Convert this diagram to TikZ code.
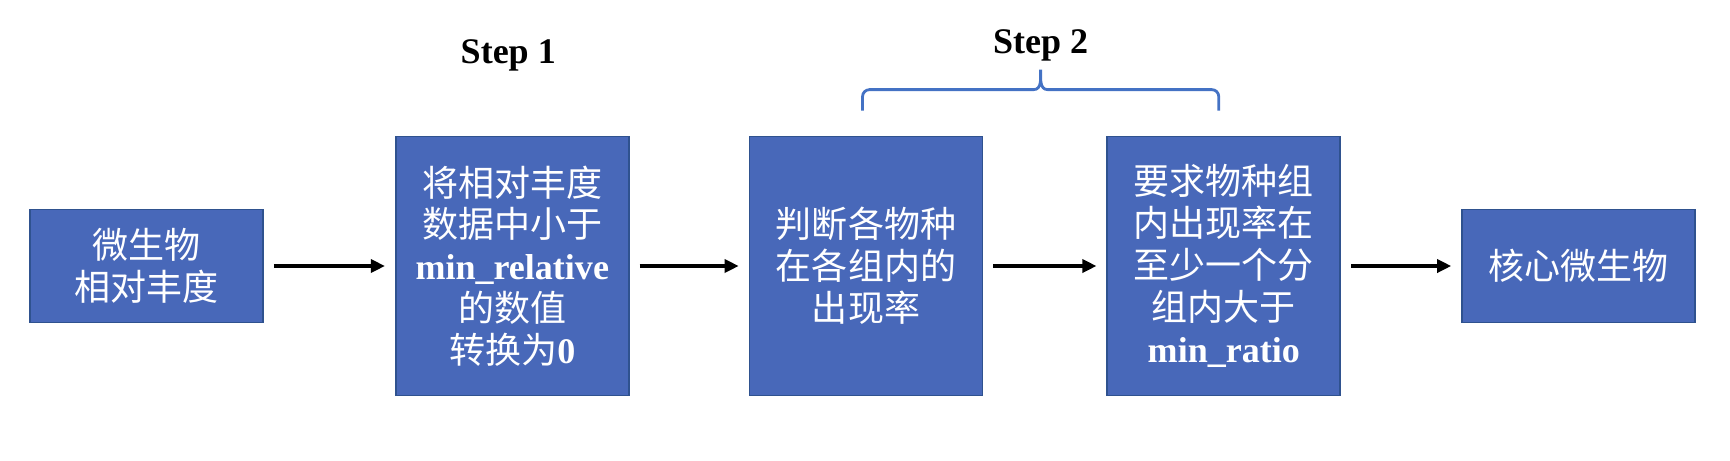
\documentclass[tikz,border=0pt]{standalone}
\usepackage{fontspec}
\setmainfont{Liberation Serif}
\newfontfamily\cjk{Noto Sans CJK SC}
\usetikzlibrary{arrows.meta, positioning, calc}
\definecolor{boxblue}{RGB}{72,104,185}
\definecolor{boxedge}{RGB}{47,82,143}
\definecolor{braceblue}{RGB}{68,114,196}
\newcommand{\lat}[1]{{\rmfamily\bfseries #1}}

\begin{document}
\begin{tikzpicture}[
    node distance=2.42cm,
    stepbox/.style={rectangle, draw=boxedge, fill=boxblue, line width=1pt,
        text=white, minimum width=4.66cm, align=center, inner sep=0pt,
        font=\fontsize{20.5}{23.8}\cjk},
    shortbox/.style={stepbox, minimum height=2.26cm},
    tallbox/.style={stepbox, minimum height=5.18cm},
    arrow/.style={-{Triangle[length=8pt,width=7.5pt]}, line width=1.8pt,
        shorten <=0.2cm, shorten >=0.2cm},
    bracket/.style={braceblue, line width=1.6pt},
    steplabel/.style={font=\fontsize{20.5}{24}\selectfont\bfseries},
]
\useasboundingbox (0,0) rectangle (34.6,-9.2);

% === PIPELINE ===
\node[shortbox] (abund) at (2.93,-5.32) {微生物\\相对丰度};
\node[tallbox, right=2.62cm of abund] (filter) {将相对丰度\\数据中小于\\\lat{min\_relative}\\的数值\\转换为\lat{0}};
\node[tallbox, right=2.38cm of filter] (occur) {判断各物种\\在各组内的\\出现率};
\node[tallbox, right=2.46cm of occur] (require) {要求物种组\\内出现率在\\至少一个分\\组内大于\\\lat{min\_ratio}};
\node[shortbox, right=2.40cm of require] (core) {核心微生物};

% === ARROWS ===
\draw[arrow] (abund) -- (filter);
\draw[arrow] (filter) -- (occur);
\draw[arrow] (occur) -- (require);
\draw[arrow] (require) -- (core);

% === STEP LABELS ===
\node[steplabel] (step1) at ($(filter.north)+(-0.08,1.6)$) {Step 1};

% Brace over step 2
\coordinate (bl) at ($(occur.north)+(-0.07,0.5)$);
\coordinate (br) at ($(require.north)+(-0.1,0.5)$);
\coordinate (tip) at ($(bl)!0.5!(br)+(0,0.82)$);
\draw[bracket] (bl) -- ++(0,0.28) to[out=90,in=180] ++(0.14,0.14)
    -- ($(tip)+(-0.14,-0.40)$) to[out=0,in=-90] (tip)
    to[out=-90,in=180] ($(tip)+(0.14,-0.40)$)
    -- ($(br)+(-0.14,0.42)$) to[out=0,in=90] ++(0.14,-0.14) -- (br);
\node[steplabel] (step2) at ($(tip)+(0,0.49)$) {Step 2};

\end{tikzpicture}
\end{document}
